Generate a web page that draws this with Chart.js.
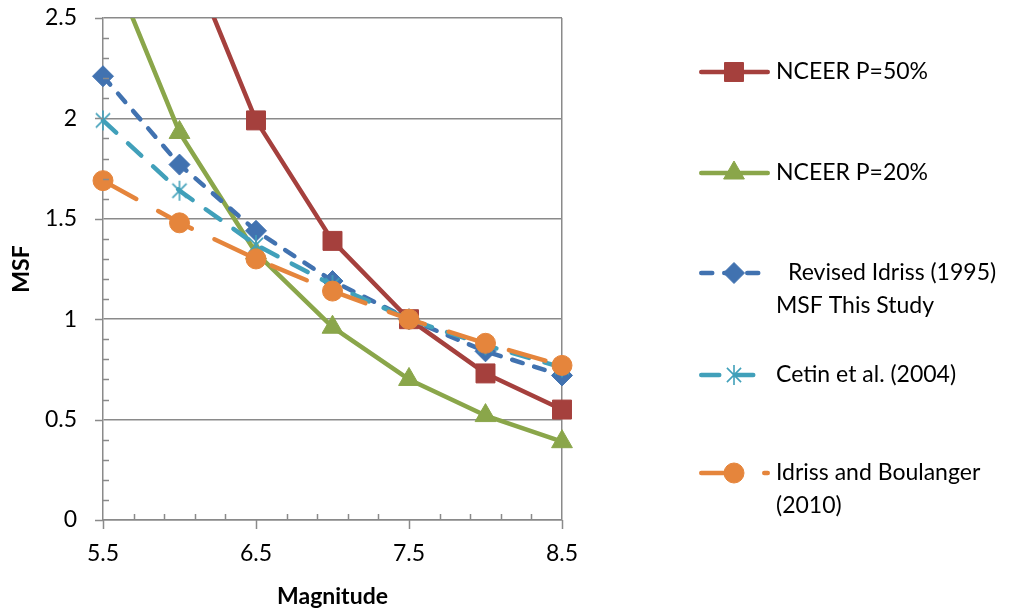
<!DOCTYPE html>
<html><head><meta charset="utf-8">
<script src="https://cdn.jsdelivr.net/npm/chart.js@4.4.1/dist/chart.umd.min.js"></script>
<style>html,body{margin:0;padding:0;background:#fff;} #wrap{position:relative;width:1011px;height:611px;}</style>
</head><body><div id="wrap"><canvas id="c" width="1011" height="611"></canvas></div>
<script>
// ---- data ----
const magnitudes = [5.5, 6, 6.5, 7, 7.5, 8, 8.5];
const nceer50 = [null, 2.92, 1.99, 1.39, 1.00, 0.73, 0.55];
const nceer20 = [2.86, 1.93, 1.33, 0.96, 0.70, 0.52, 0.39];
const revisedIdriss = [2.21, 1.77, 1.44, 1.19, 1.00, 0.84, 0.72];
const cetin = [1.99, 1.64, 1.37, 1.17, 1.00, 0.87, 0.76];
const idrissBoulanger = [1.69, 1.48, 1.30, 1.14, 1.00, 0.88, 0.77];
const xTickLabels = [5.5, 6.5, 7.5, 8.5];
const yTickLabels = [0, 0.5, 1, 1.5, 2, 2.5];
const seriesNames = [
  ['NCEER P=50%'],
  ['NCEER P=20%'],
  ['Revised Idriss (1995)', 'MSF This Study'],
  ['Cetin et al. (2004)'],
  ['Idriss and Boulanger', '(2010)']
];
const xTitle = 'Magnitude';
const yTitle = 'MSF';

// ---- styles ----
const FONT = 'Lato';
const GRAY = '#8a8a8a';
const COLORS = ['#A5403D', '#8AA64A', '#4172B0', '#41A0BA', '#E5853C'];
const DASHES = [[], [], [11, 12], [18, 16], [38, 25]];
const LW = 4.5;

function starCanvas(color, r) {
  const c = document.createElement('canvas');
  const s = Math.ceil(2 * r + 4);
  c.width = s; c.height = s;
  const g = c.getContext('2d');
  g.strokeStyle = color; g.lineWidth = 1.6; g.lineCap = 'butt';
  const cx = s / 2, cy = s / 2, d = r * Math.SQRT1_2;
  g.beginPath();
  g.moveTo(cx, cy - r); g.lineTo(cx, cy + r);
  g.moveTo(cx - d, cy - d); g.lineTo(cx + d, cy + d);
  g.moveTo(cx + d, cy - d); g.lineTo(cx - d, cy + d);
  g.stroke();
  return c;
}
const STAR = starCanvas(COLORS[3], 10);
const POINT_STYLES = ['rect', 'triangle', 'rectRot', STAR, 'circle'];
const POINT_RADII = [13.4, 12, 10.5, 10, 10];
const ORDERS = [5, 4, 3, 2, 1];

function toXY(vals) {
  return magnitudes.map((m, i) => ({x: m, y: vals[i]}));
}
const seriesValues = [nceer50, nceer20, revisedIdriss, cetin, idrissBoulanger];

const datasets = seriesValues.map((vals, i) => ({
  label: seriesNames[i].join(' '),
  data: toXY(vals),
  borderColor: COLORS[i],
  backgroundColor: COLORS[i],
  borderWidth: LW,
  borderDash: DASHES[i],
  borderCapStyle: 'round',
  borderJoinStyle: 'round',
  pointStyle: POINT_STYLES[i],
  pointRadius: POINT_RADII[i],
  pointHoverRadius: POINT_RADII[i],
  pointBackgroundColor: COLORS[i],
  pointBorderColor: COLORS[i],
  pointBorderWidth: 1,
  tension: 0,
  spanGaps: false,
  order: ORDERS[i],
  clip: {left: 16, top: 0, right: 16, bottom: 16}
}));

// minor/major tick marks drawn through the scales
const tickPlugin = {
  id: 'tickMarks',
  afterDraw(chart) {
    const {ctx, scales: {x, y}, chartArea: a} = chart;
    ctx.save();
    ctx.strokeStyle = GRAY; ctx.lineWidth = 1.5;
    ctx.beginPath();
    for (let k = 0; k <= 25; k++) {
      const v = k / 10;
      const py = Math.round(y.getPixelForValue(v)) + 0.5;
      if (k % 5 === 0) { ctx.moveTo(a.left - 8, py); ctx.lineTo(a.left, py); }
      else { ctx.moveTo(a.left, py); ctx.lineTo(a.left + 6, py); }
    }
    for (let k = 0; k <= 15; k++) {
      const v = 5.5 + k * 0.2;
      const px = Math.round(x.getPixelForValue(v)) + 0.5;
      if (k % 5 === 0) { ctx.moveTo(px, a.bottom); ctx.lineTo(px, a.bottom + 9); }
      else { ctx.moveTo(px, a.bottom); ctx.lineTo(px, a.bottom - 6); }
    }
    ctx.stroke();
    ctx.restore();
  }
};

function drawMarker(ctx, style, x, y, r, color) {
  ctx.save();
  ctx.fillStyle = color; ctx.strokeStyle = color; ctx.lineWidth = 1;
  if (typeof style !== 'string') {
    ctx.drawImage(style, x - style.width / 2, y - style.height / 2);
    ctx.restore();
    return;
  }
  ctx.beginPath();
  if (style === 'rect') {
    const s = Math.SQRT1_2 * r;
    ctx.rect(x - s, y - s, 2 * s, 2 * s);
  } else if (style === 'triangle') {
    for (let k = 0; k < 3; k++) {
      const ang = k * 2 * Math.PI / 3;
      const px = x + Math.sin(ang) * r, py = y - Math.cos(ang) * r;
      if (k === 0) ctx.moveTo(px, py); else ctx.lineTo(px, py);
    }
    ctx.closePath();
  } else if (style === 'rectRot') {
    ctx.moveTo(x - r, y); ctx.lineTo(x, y - r); ctx.lineTo(x + r, y); ctx.lineTo(x, y + r); ctx.closePath();
  } else {
    ctx.arc(x, y, r, 0, Math.PI * 2);
  }
  ctx.fill(); ctx.stroke();
  ctx.restore();
}

// legend layout (positions only)
const LEG_X0 = 699, LEG_X1 = 770, LEG_TEXT_X = 776, LEG_LINE_H = 33;
const LEG_Y = [72, 173, 273, 375, 473];
const LEG_FIRST_INDENT = [0, 0, 12, 0, 0];

const legendPlugin = {
  id: 'customLegend',
  afterDraw(chart) {
    const ctx = chart.ctx;
    chart.data.datasets.forEach((ds, i) => {
      const y = LEG_Y[i];
      ctx.save();
      ctx.strokeStyle = ds.borderColor;
      ctx.lineWidth = LW;
      ctx.lineCap = 'round';
      ctx.setLineDash(ds.borderDash || []);
      ctx.beginPath();
      ctx.moveTo(LEG_X0 + LW / 2, y);
      ctx.lineTo(LEG_X1 - LW / 2, y);
      ctx.stroke();
      ctx.restore();
      const mid = (LEG_X0 + LEG_X1) / 2 - 0.5;
      drawMarker(ctx, ds.pointStyle, mid, y, ds.pointRadius, ds.borderColor);
      ctx.save();
      ctx.fillStyle = '#000';
      ctx.font = '23px ' + FONT;
      ctx.textBaseline = 'middle';
      ctx.textAlign = 'left';
      seriesNames[i].forEach((t, j) => {
        ctx.fillText(t, LEG_TEXT_X + (j === 0 ? LEG_FIRST_INDENT[i] : 0), y + j * LEG_LINE_H);
      });
      ctx.restore();
    });
  }
};

function make() {
  new Chart(document.getElementById('c'), {
    type: 'line',
    data: {datasets},
    options: {
      responsive: false,
      animation: false,
      events: [],
      layout: {padding: {left: 0, right: 449, top: 18, bottom: 0}},
      plugins: {legend: {display: false}, tooltip: {enabled: false}, title: {display: false}},
      scales: {
        x: {
          type: 'linear', min: 5.5, max: 8.5,
          afterBuildTicks: s => { s.ticks = xTickLabels.map(v => ({value: v})); },
          afterFit: s => { s.height = 91; s.paddingLeft = 0; s.paddingRight = 0; },
          ticks: {font: {family: FONT, size: 23}, color: '#000', padding: 20, maxRotation: 0,
                  callback: v => String(v)},
          grid: {drawTicks: false, lineWidth: 1.5,
                 color: c => (c.tick && c.tick.value === 8.5) ? GRAY : 'rgba(0,0,0,0)'},
          border: {color: GRAY, width: 1.5},
          title: {display: true, text: xTitle, color: '#000',
                  font: {family: FONT, size: 23, weight: 'bold'}, padding: {top: 0, bottom: 1}}
        },
        y: {
          type: 'linear', min: 0, max: 2.5,
          afterBuildTicks: s => { s.ticks = yTickLabels.map(v => ({value: v})); },
          afterFit: s => { s.width = 103; s.paddingTop = 0; s.paddingBottom = 0; },
          ticks: {font: {family: FONT, size: 23}, color: '#000', padding: 26,
                  callback: v => String(v)},
          grid: {drawTicks: false, lineWidth: 1.5, color: GRAY},
          border: {color: GRAY, width: 1.5},
          title: {display: true, text: yTitle, color: '#000',
                  font: {family: FONT, size: 23, weight: 'bold'}, padding: {top: 8, bottom: 0}}
        }
      }
    },
    plugins: [tickPlugin, legendPlugin]
  });
}
Promise.all([
  document.fonts.load('23px Lato'),
  document.fonts.load('bold 23px Lato')
]).then(make, make);
</script>
</body></html>
